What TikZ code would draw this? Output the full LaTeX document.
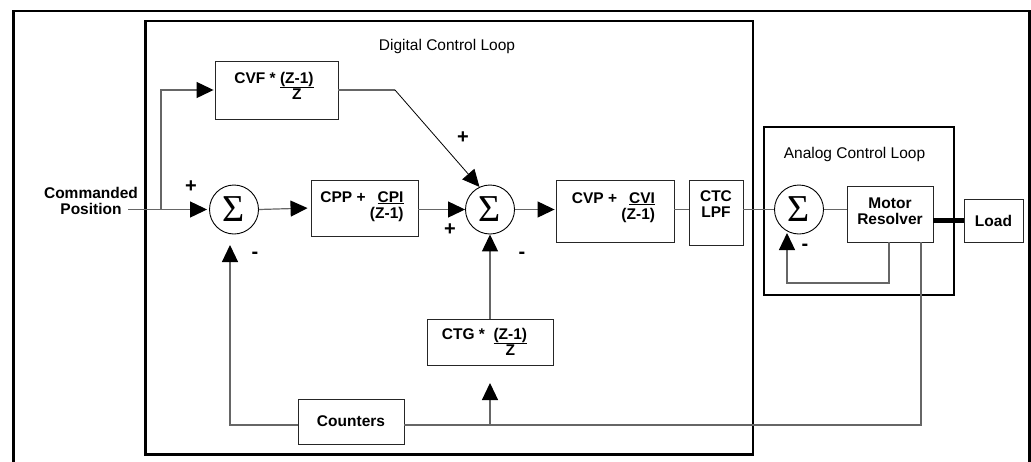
\documentclass[tikz,border=0pt]{standalone}
\usepackage{fontspec}
\setmainfont{Liberation Sans}
\newfontfamily\sigmafont{Liberation Serif}
\usetikzlibrary{arrows.meta}
% fraction with underlined numerator, centred or right aligned
\newcommand\fracover[2]{\begin{tabular}[t]{@{}c@{}}\underline{#1}\\#2\end{tabular}}
\newcommand\fracright[2]{\begin{tabular}[t]{@{}r@{}}\underline{#1}\\#2\end{tabular}}
\newcommand\twolines[3]{\begin{tabular}[t]{@{}#1@{}}#2\\#3\end{tabular}}
\begin{document}
\begin{tikzpicture}[x=1pt, y=-1pt,
  font=\fontsize{15.5}{16}\selectfont\bfseries,
  frame/.style={draw=black, line width=2.8pt},
  blk/.style={draw=black!85, line width=0.9pt, inner sep=0pt},
  sumnode/.style={circle, draw=black, line width=0.9pt, minimum size=49pt, inner sep=0pt,
    font=\sigmafont\fontsize{38}{38}\selectfont},
  wire/.style={draw=black!60, line width=1.2pt},
  arr/.style={wire, -{Triangle[length=17pt,width=16pt,color=black]}},
  sign/.style={font=\fontsize{20}{20}\selectfont\bfseries, inner sep=0pt},
  title/.style={font=\fontsize{15.5}{16}\selectfont, anchor=base, inner sep=0pt},
  lbl/.style={anchor=base, inner sep=0pt},
  heavy/.style={draw=black, line width=5pt}]

\useasboundingbox (0,0) rectangle (1031,461);
\fill[white] (0,0) rectangle (1031,461);

% frames
\draw[frame] (13.5,463) -- (13.5,11) -- (1029.5,11) -- (1029.5,463);
\draw[frame] (145.5,21) rectangle (753,454.5);
\draw[frame] (764,127) rectangle (954,295);
\node[title] (tdig) at (447,50) {Digital Control Loop};
\node[title] (tana) at (854.5,158) {Analog Control Loop};

% blocks
\node[blk, minimum width=123pt, minimum height=58pt] (cvf) at (276.5,90) {};
\node[lbl] (tcvf) at (274,83) {CVF * \fracover{(Z-1)}{Z}};
\node[sumnode] (s1) at (234,209.5) {Σ};
\node[blk, minimum width=107pt, minimum height=56pt] (cpp) at (364.5,208) {};
\node[lbl] (tcpp) at (362,202) {CPP + \fracright{CPI}{(Z-1)}};
\node[sumnode] (s2) at (490,209.5) {Σ};
\node[blk, minimum width=118pt, minimum height=62pt] (cvp) at (615,211) {};
\node[lbl] (tcvp) at (613.5,203) {CVP + \fracright{CVI}{(Z-1)}};
\node[blk, minimum width=54pt, minimum height=65pt] (ctc) at (716,212.5) {};
\node[lbl] (tctc) at (716,201) {\twolines{c}{CTC}{LPF}};
\node[sumnode] (s3) at (799,209.5) {Σ};
\node[blk, minimum width=86pt, minimum height=56pt] (mot) at (890,214) {};
\node[lbl] (tmot) at (890,208.5) {\twolines{c}{Motor}{Resolver}};
\node[blk, minimum width=59pt, minimum height=43pt] (load) at (993.5,220.5) {Load};
\node[blk, minimum width=126pt, minimum height=46pt] (ctg) at (490,342) {};
\node[lbl] (tctg) at (484.5,339) {CTG *~~\fracover{(Z-1)}{Z}};
\node[blk, minimum width=106pt, minimum height=45pt] (cnt) at (351,421.5) {Counters};
\node[lbl] (cmd) at (91,198) {\twolines{c}{Commanded}{Position}};

% signs
\node[sign] (p1) at (191,187) {+};
\node[sign] (m1) at (255,255) {-};
\node[sign] (p2a) at (463,138) {+};
\node[sign] (p2b) at (450,230) {+};
\node[sign] (m2) at (522,255) {-};
\node[sign] (m3) at (805,247) {-};

% forward path
\coordinate (inL) at (128,209.5);
\coordinate (br) at (161,209.5);
\coordinate (bend) at (395,90);
\draw[arr, shorten >=2pt] (inL) -- (s1.west);
\draw[arr, shorten >=1pt] (br) |- (cvf.west);
\draw[arr, shorten >=3pt] (s1.east) -- (cpp.west);
\draw[arr] (cpp.east |- s2) -- (s2.west);
\draw[wire] (cvf.east) -- (bend);
\draw[arr, draw=black, line width=0.8pt] (bend) -- (s2.115);
\draw[arr, shorten >=1pt] (s2.east) -- (s2 -| cvp.west);
\draw[wire] (s2 -| cvp.east) -- (s2 -| ctc.west);
\draw[wire] (s2 -| ctc.east) -- (s3.west);
\draw[wire] (s3.east) -- (s3 -| mot.west);
\draw[heavy] (mot.east |- load) -- (load.west);

% analog feedback
\coordinate (af1) at (889,283);
\coordinate (af2) at (787,283);
\coordinate (af3) at (787,233);
\draw[arr] (mot.south -| af1) -- (af1) -- (af2) -- (af3);

% position feedback
\coordinate (of1) at (921,425);
\coordinate (cf1) at (230,425);
\coordinate (cf2) at (230,245);
\coordinate (tg1) at (490,425);
\coordinate (tg2) at (490,383);
\draw[wire] (mot.south -| of1) -- (of1) -- (cnt.east |- of1);
\draw[arr] (cnt.west |- cf1) -- (cf1) -- (cf2);
\draw[arr] (tg1) -- (tg2);
\draw[arr] (ctg.north) -- (s2.south);
\end{tikzpicture}
\end{document}
